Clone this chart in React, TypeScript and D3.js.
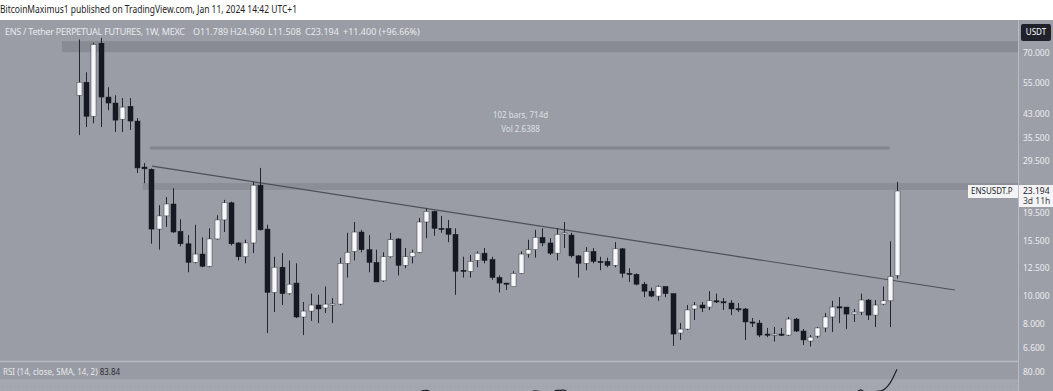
import React from 'react';
import * as d3 from 'd3';

// ENS/USDT weekly candles (prices in USDT)
const opens = [49.9,55.4,42.2,75.7,49.2,46.9,41.2,45.7,40.6,28.1,
27.6,17.1,19.0,20.9,16.8,15.2,13.1,14.0,12.7,15.8,
18.4,21.1,15.3,13.7,15.3,24.3,17.1,10.3,12.6,10.2,
11.1,8.46,8.87,9.31,9.09,9.38,9.38,13.0,14.3,16.7,
14.5,13.1,11.3,13.7,15.8,12.8,13.7,14.2,18.1,19.7,
17.2,17.2,16.4,12.3,12.2,13.3,14.1,13.4,11.6,11.1,
10.8,12.0,14.0,14.5,16.0,15.3,14.1,16.5,16.3,13.8,
13.0,14.3,13.2,13.2,12.8,14.6,12.0,11.9,11.0,10.4,
10.0,10.8,10.2,7.44,7.68,9.02,9.31,9.16,9.63,9.56,
9.46,9.04,9.02,8.13,8.06,7.38,7.36,7.38,7.32,8.32,
7.56,6.98,7.26,7.75,8.46,9.18,9.16,8.66,8.80,9.69,
8.59,9.38,9.63,11.789];
const closes = [55.4,42.2,75.0,49.2,46.9,40.9,45.4,40.6,27.9,27.7,
17.1,19.0,20.9,16.7,15.2,13.1,14.0,12.7,15.8,18.4,
21.1,15.2,13.7,15.3,24.3,17.0,10.3,12.6,10.2,11.0,
8.46,8.87,9.31,9.02,9.38,9.40,13.0,14.2,16.7,14.5,
13.1,11.2,13.7,15.7,12.8,13.7,14.2,18.1,19.7,17.2,
17.1,16.4,12.2,12.2,13.2,14.1,13.3,11.6,11.1,11.0,
12.0,14.0,14.5,16.0,15.3,14.1,16.4,16.6,13.8,13.0,
14.3,13.2,13.15,12.8,14.6,12.0,11.95,11.0,10.4,10.0,
10.8,10.2,7.38,7.68,8.95,9.31,9.09,9.63,9.60,9.54,
9.02,9.02,8.13,8.06,7.32,7.36,7.38,7.36,8.32,7.56,
7.04,7.20,7.75,8.46,9.16,9.15,8.66,8.80,9.69,8.59,
9.31,9.63,11.7,23.194];
const highs = [78,60.0,76,79,53.2,49.9,48.8,48.8,41.6,29.0,
27.8,20.7,22.1,23.7,18.5,16.3,17.7,16.0,17.2,19.1,
21.6,21.3,15.4,15.7,24.9,27.9,17.7,13.7,14.1,13.3,
13.0,9.54,10.2,10.1,10.8,9.85,13.6,16.6,18.1,17.0,
16.3,14.5,14.2,16.6,15.9,14.7,14.5,18.7,20.1,19.8,
19.0,18.4,17.2,13.7,13.9,14.3,14.7,13.7,11.8,11.1,
12.2,14.3,15.7,17.0,17.2,15.9,17.2,18.1,16.6,13.9,
14.8,14.7,13.7,13.6,15.4,14.7,12.5,12.0,11.2,10.7,
10.9,10.8,10.2,8.06,9.31,9.54,9.54,10.4,10.2,9.85,
9.69,9.46,9.09,8.39,8.26,7.75,7.81,7.75,8.46,8.39,
7.68,7.32,7.81,8.73,9.63,9.92,9.16,9.02,10.2,9.77,
9.69,10.8,15.5,24.96];
const lows = [36.3,38.7,39.9,38.7,44.3,37.2,37.2,37.8,26.8,24.7,
15.2,14.5,17.4,16.6,14.9,12.1,13.0,12.6,12.6,15.7,
16.7,15.0,13.3,13.0,14.1,16.9,7.44,8.80,9.31,10.1,
8.39,7.32,8.2,8.06,8.73,8.06,9.31,11.6,13.3,14.2,
12.1,11.2,11.2,13.6,11.8,12.5,13.0,14.1,15.9,16.2,
16.6,15.4,10.1,11.6,11.6,12.6,13.0,11.4,10.3,10.5,
10.8,11.95,13.6,13.6,14.9,13.9,13.3,14.7,13.6,11.6,
12.3,13.0,12.3,12.6,12.6,11.6,11.2,10.9,9.92,9.92,
9.63,9.92,6.71,7.04,7.62,8.26,8.80,8.95,9.46,8.95,
8.59,8.80,7.04,7.81,7.20,7.20,6.95,7.26,7.26,7.50,
6.76,6.68,7.15,7.50,7.50,8.06,7.68,8.13,8.59,8.26,
7.81,9.31,7.81,11.508];

const priceTicks = [70, 55, 43, 35.5, 29.5, 19.5, 15.5, 12.5, 10, 8, 6.6];
const rsiTicks = [80];
const trendLine: [number, number][] = [[10.1, 28.3], [121, 10.5]];
const topZone = [70.5, 77];
const resistanceZone = [23.4, 24.7];
const measure = { from: 9.8, to: 112, price: 32.7 };
const lastPrice = 23.194;
const rsiLastLabel = 83.84;

function wilderRSI(c: number[], n = 14): (number | null)[] {
  const out: (number | null)[] = c.map(() => null);
  let g = 0, l = 0;
  for (let i = 1; i <= n; i++) {
    const d = c[i] - c[i - 1];
    if (d > 0) g += d; else l -= d;
  }
  g /= n; l /= n;
  out[n] = l === 0 ? 100 : 100 - 100 / (1 + g / l);
  for (let i = n + 1; i < c.length; i++) {
    const d = c[i] - c[i - 1];
    g = (g * (n - 1) + Math.max(d, 0)) / n;
    l = (l * (n - 1) + Math.max(-d, 0)) / n;
    out[i] = l === 0 ? 100 : 100 - 100 / (1 + g / l);
  }
  return out;
}

const W = 1053, H = 391;
const PANE_R = 1018;
const FONT = '"Noto Sans", "DejaVu Sans", sans-serif';

export default function App() {
  const x = d3.scaleLinear().domain([0, closes.length - 1]).range([79, 897]);
  const y = d3.scaleLog().domain([6.6, 70]).range([348, 53]);
  const yR = d3.scaleLinear().domain([0, 100]).range([428, 358]);
  const rsi = wilderRSI(closes);
  const rsiPts = rsi.map((v, i) => [i, v] as [number, number | null]).filter(d => d[1] !== null) as [number, number][];
  const rsiPath = d3.line<[number, number]>().x(d => x(d[0])).y(d => yR(d[1])).curve(d3.curveMonotoneX)(rsiPts) || '';
  const bw = 5;
  const bg = '#9a9da5';

  return (
    <svg width={W} height={H} style={{ position: 'absolute', left: 0, top: 0, display: 'block' }} fontFamily={FONT}>
      <defs>
        <clipPath id="pane"><rect x={0} y={20} width={PANE_R} height={341} /></clipPath>
        <clipPath id="rsipane"><rect x={0} y={362} width={PANE_R} height={29} /></clipPath>
        <pattern id="dots" width="4" height="4" patternUnits="userSpaceOnUse">
          <rect width="4" height="4" fill="#a3a6ae" />
          <circle cx="1" cy="1" r="0.5" fill="#b3b6bd" />
        </pattern>
      </defs>
      <rect x={0} y={0} width={W} height={H} fill="#ffffff" />
      <text x={0} y={13} fontSize={10} fill="#222" textLength={297} lengthAdjust="spacingAndGlyphs">BitcoinMaximus1 published on TradingView.com, Jan 11, 2024 14:42 UTC+1</text>
      <rect x={0} y={20} width={W} height={H - 20} fill={bg} />

      <g clipPath="url(#pane)">
        <rect x={62} y={y(topZone[1])} width={PANE_R - 62} height={y(topZone[0]) - y(topZone[1])} fill="#888b93" />
        <rect x={x(8.8)} y={y(resistanceZone[1])} width={PANE_R - x(8.8)} height={y(resistanceZone[0]) - y(resistanceZone[1])} fill="#8b8e96" />
        <line x1={x(measure.from)} x2={x(measure.to)} y1={y(measure.price)} y2={y(measure.price)} stroke="#83868e" strokeWidth={3} />
        <text x={x(61)} y={118} fontSize={8} fill="#dde0e5" textAnchor="middle">102 bars, 714d</text>
        <text x={x(61)} y={132} fontSize={8} fill="#dde0e5" textAnchor="middle">Vol 2.6388</text>
        <line x1={x(trendLine[0][0])} y1={y(trendLine[0][1])} x2={x(trendLine[1][0])} y2={y(trendLine[1][1])} stroke="#4d5058" strokeWidth={1.2} />
        {closes.map((c, i) => {
          const o = opens[i];
          const up = c >= o;
          const top = y(Math.max(o, c));
          const bot = y(Math.min(o, c));
          const cx = Math.round(x(i)) + 0.5;
          return (
            <g key={i}>
              <line x1={cx} x2={cx} y1={y(highs[i])} y2={y(lows[i])} stroke="#23262e" strokeWidth={1} />
              <rect x={cx - bw / 2} y={top} width={bw} height={Math.max(1.2, bot - top)} fill={up ? '#f7f7f9' : '#161922'} stroke={up ? '#3a3d45' : '#161922'} strokeWidth={0.5} />
            </g>
          );
        })}
      </g>

      {/* RSI pane */}
      <rect x={0} y={362} width={PANE_R} height={H - 362} fill="#989ba3" />
      <rect x={0} y={yR(70)} width={PANE_R} height={H - yR(70)} fill="url(#dots)" />
      <g clipPath="url(#rsipane)">
        <path d={rsiPath} fill="none" stroke="#1e2129" strokeWidth={1.2} />
      </g>
      <text x={3} y={375} fontSize={8} fill="#e6e8ec">RSI (14, close, SMA, 14, 2) <tspan fill="#2a2d35">{rsiLastLabel.toFixed(2)}</tspan></text>
      <line x1={0} x2={W} y1={361.5} y2={361.5} stroke="#b7bac1" strokeWidth={1.5} />

      {/* price axis */}
      <rect x={PANE_R + 1} y={20} width={W - PANE_R - 1} height={H - 20} fill="#9c9fa7" />
      <line x1={PANE_R + 0.5} x2={PANE_R + 0.5} y1={20} y2={H} stroke="#b9bcc3" strokeWidth={1} />
      {priceTicks.map(t => (
        <text key={t} x={1023} y={y(t)} dy="0.35em" fontSize={8.5} fill="#eceef2">{t.toFixed(3)}</text>
      ))}
      {rsiTicks.map(t => (
        <text key={t} x={1023} y={yR(t)} dy="0.35em" fontSize={8.5} fill="#eceef2">{t.toFixed(2)}</text>
      ))}
      <rect x={1021} y={24} width={30} height={17} rx={2} fill="#1f222b" />
      <text x={1036} y={32.5} dy="0.35em" fontSize={8} fill="#ffffff" textAnchor="middle">USDT</text>

      <rect x={968} y={y(lastPrice) - 6} width={PANE_R - 968} height={13} fill="#f4f4f6" />
      <text x={971} y={y(lastPrice)} dy="0.35em" fontSize={8} fill="#22252c">ENSUSDT.P</text>
      <rect x={PANE_R + 1} y={y(lastPrice) - 6} width={W - PANE_R - 1} height={22} fill="#f4f4f6" />
      <text x={1023} y={y(lastPrice)} dy="0.35em" fontSize={8.5} fill="#22252c">{lastPrice.toFixed(3)}</text>
      <text x={1023} y={y(lastPrice) + 10} dy="0.35em" fontSize={8.5} fill="#3a3d45">3d 11h</text>

      {/* legend */}
      <text x={5} y={35} fontSize={9} fill="#e8eaee">
        <tspan textLength={180}>ENS / Tether PERPETUAL FUTURES, 1W, MEXC</tspan>
        <tspan x={193}>O11.789</tspan>
        <tspan x={230}>H24.960</tspan>
        <tspan x={268}>L11.508</tspan>
        <tspan x={305}>C23.194</tspan>
        <tspan x={343}>+11.400 (+96.66%)</tspan>
      </text>
    </svg>
  );
}
